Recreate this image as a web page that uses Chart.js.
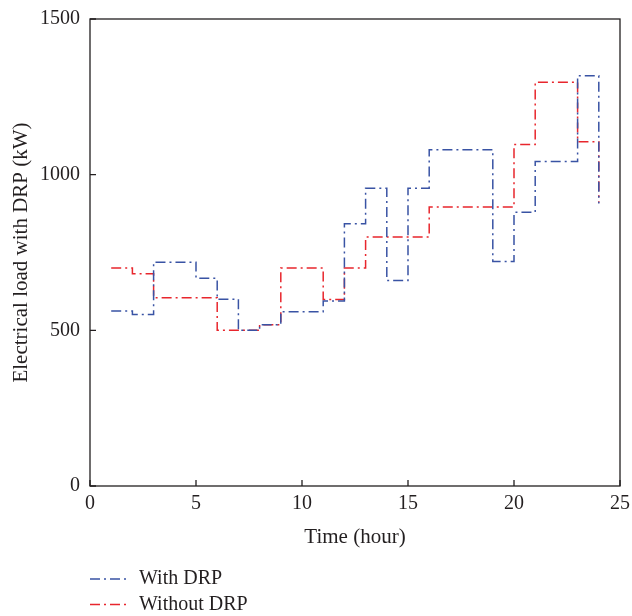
<!DOCTYPE html>
<html><head><meta charset="utf-8">
<script src="https://cdn.jsdelivr.net/npm/chart.js@4/dist/chart.umd.min.js"></script>
<style>html,body{margin:0;padding:0;background:#fff}#wrap{width:632px;height:616px}</style>
</head><body><div id="wrap"><canvas id="c" width="632" height="616"></canvas></div>
<script>
const hours = [1,2,3,4,5,6,7,8,9,10,11,12,13,14,15,16,17,18,19,20,21,22,23,24];
const withDRP = [562,551,719,719,667,600,500,518,560,560,594,842,956,660,956,1080,1080,1080,721,879,1042,1042,1318,907];
const withoutDRP = [700,682,605,605,605,500,500,518,700,700,599,700,800,800,800,896,896,896,896,1097,1297,1297,1106,911];
const seriesNames = ['With DRP','Without DRP'];
const xTicks = [0,5,10,15,20,25];
const yTicks = [0,500,1000,1500];
const xTitle = 'Time (hour)';
const yTitle = 'Electrical load with DRP (kW)';

const FONT = '"Liberation Serif", "Times New Roman", serif';
const INK = '#231f20';
const toPts = arr => hours.map((h, i) => ({x: h, y: arr[i]}));

const framePlugin = {
  id: 'frame',
  afterDraw(chart) {
    const {ctx, chartArea: a, scales} = chart;
    ctx.save();
    ctx.strokeStyle = INK;
    ctx.lineWidth = 1.3;
    ctx.setLineDash([]);
    ctx.strokeRect(a.left, a.top, a.right - a.left, a.bottom - a.top);
    ctx.beginPath();
    xTicks.forEach(v => {
      const px = scales.x.getPixelForValue(v);
      ctx.moveTo(px, a.bottom); ctx.lineTo(px, a.bottom - 6);
    });
    yTicks.forEach(v => {
      const py = scales.y.getPixelForValue(v);
      ctx.moveTo(a.left, py); ctx.lineTo(a.left + 6, py);
    });
    ctx.stroke();
    chart.data.datasets.forEach((ds, i) => {
      const y = 579 + i * 25.5;
      ctx.beginPath();
      ctx.strokeStyle = ds.borderColor;
      ctx.lineWidth = ds.borderWidth;
      ctx.setLineDash(ds.borderDash);
      ctx.moveTo(90, y); ctx.lineTo(126, y);
      ctx.stroke();
      ctx.setLineDash([]);
      ctx.fillStyle = INK;
      ctx.font = '20px ' + FONT;
      ctx.textBaseline = 'middle';
      ctx.textAlign = 'left';
      ctx.fillText(ds.label, 139, y);
    });
    ctx.restore();
  }
};

new Chart(document.getElementById('c'), {
  type: 'line',
  data: {
    datasets: [
      {label: seriesNames[0], data: toPts(withDRP), borderColor: '#3953a4', borderWidth: 1.5,
       borderDash: [10,4,2,4], stepped: true, pointRadius: 0, fill: false, clip: false},
      {label: seriesNames[1], data: toPts(withoutDRP), borderColor: '#e8262d', borderWidth: 1.5,
       borderDash: [10,4,2,4], stepped: true, pointRadius: 0, fill: false, clip: false}
    ]
  },
  options: {
    responsive: false, animation: false, devicePixelRatio: 1,
    layout: {padding: {top: 19, right: 12, bottom: 66, left: 0}},
    plugins: {legend: {display: false}, tooltip: {enabled: false}},
    scales: {
      x: {
        type: 'linear', min: 0, max: 25,
        afterBuildTicks: s => { s.ticks = xTicks.map(v => ({value: v})); },
        afterFit: s => { s.height = 64; s.paddingLeft = 0; s.paddingRight = 0; },
        grid: {display: false, drawTicks: false},
        border: {display: false},
        ticks: {font: {family: FONT, size: 20, lineHeight: 1.2}, color: INK, padding: 6, maxRotation: 0, autoSkip: false,
                callback: v => String(v)},
        title: {display: true, text: xTitle, font: {family: FONT, size: 21, lineHeight: 1.2}, color: INK, padding: {top: 0, bottom: 0}}
      },
      y: {
        min: 0, max: 1500,
        afterBuildTicks: s => { s.ticks = yTicks.map(v => ({value: v})); },
        afterFit: s => { s.width = 90; s.paddingTop = 0; s.paddingBottom = 0; },
        grid: {display: false, drawTicks: false},
        border: {display: false},
        ticks: {font: {family: FONT, size: 20, lineHeight: 1.2}, color: INK, padding: 10, autoSkip: false,
                callback: v => String(v)},
        title: {display: true, text: yTitle, font: {family: FONT, size: 21, lineHeight: 1.2}, color: INK, padding: {top: 9, bottom: 0}}
      }
    }
  },
  plugins: [framePlugin]
});
</script>
</body></html>
